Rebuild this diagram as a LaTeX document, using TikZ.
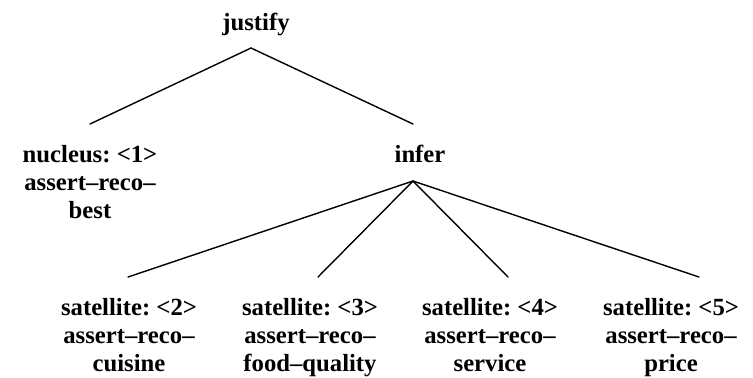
\documentclass[tikz,border=0pt]{standalone}
\usepackage{fontspec}
\setmainfont{Liberation Serif}
\frenchspacing
\begin{document}
\begin{tikzpicture}[x=0.5pt,y=-0.5pt,
  lbl/.style={font=\fontsize{12.35}{13.8}\selectfont\bfseries\frenchspacing, align=center, inner sep=0pt, anchor=base},
  edge/.style={line width=0.7pt, line cap=round}]
\useasboundingbox (0,0) rectangle (753,377);
% nodes (multi-line nodes anchored at the baseline of their last line)
\node[lbl] (justify) at (256,30) {justify};
\node[lbl] (nucleus) at (90,218) {nucleus: <1>\\assert–reco–\\best};
\node[lbl] (infer) at (420,162) {infer};
\node[lbl] (s2) at (129,371) {satellite: <2>\\assert–reco–\\cuisine};
\node[lbl] (s3) at (310,371) {satellite: <3>\\assert–reco–\\food–quality};
\node[lbl] (s4) at (490,371) {satellite: <4>\\assert–reco–\\service};
\node[lbl] (s5) at (671,371) {satellite: <5>\\assert–reco–\\price};
% connector ends
\coordinate (jbot) at (251,48);
\coordinate (ntop) at (90,124);
\coordinate (itop) at (413,124);
\coordinate (ibot) at (413,181);
\coordinate (s2top) at (128,277);
\coordinate (s3top) at (318,277);
\coordinate (s4top) at (508,277);
\coordinate (s5top) at (699,277);
% connectors
\draw[edge] (ntop) -- (jbot) -- (itop);
\draw[edge] (ibot) -- (s2top);
\draw[edge] (ibot) -- (s3top);
\draw[edge] (ibot) -- (s4top);
\draw[edge] (ibot) -- (s5top);
\end{tikzpicture}
\end{document}
